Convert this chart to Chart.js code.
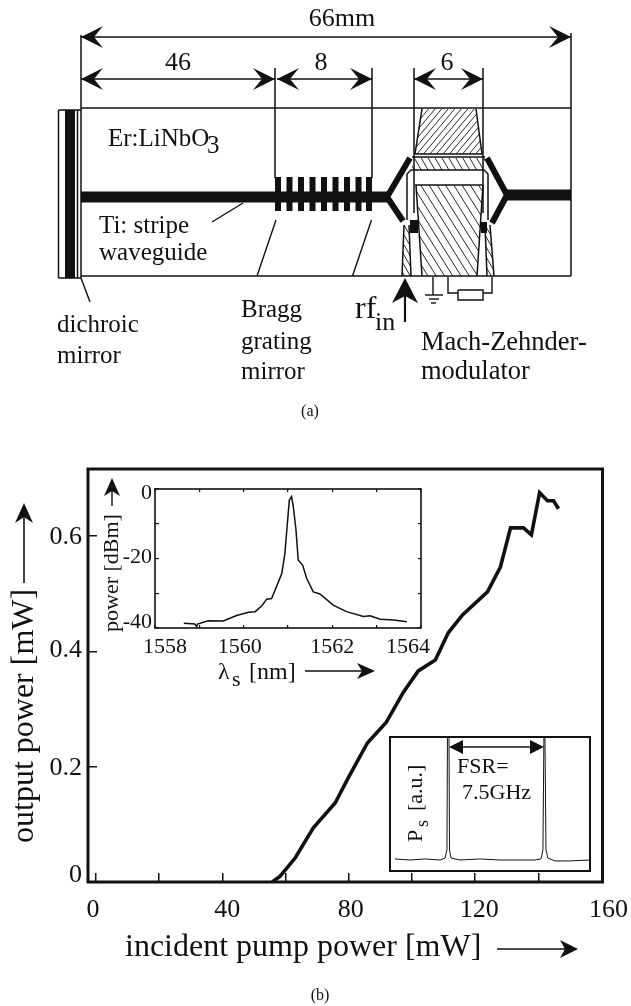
<!DOCTYPE html>
<html>
<head>
<meta charset="utf-8">
<title>Er:LiNbO3 laser</title>
<script src="https://cdn.jsdelivr.net/npm/chart.js@4"></script>
<style>
    html, body { margin: 0; padding: 0; background: #fff; }
    #page { position: relative; width: 631px; height: 1006px; overflow: hidden; }
    canvas { position: absolute; left: 0; top: 0; }
</style>
</head>
<body>
<div id="page">
    <canvas id="sketch" width="631" height="1006"></canvas>
    <canvas id="main" width="631" height="1006"></canvas>
    <canvas id="spectrum" width="631" height="1006"></canvas>
    <canvas id="comb" width="631" height="1006"></canvas>
</div>
<script>
// main curve (b)
const pumpPower = [55.8, 58.3, 63.1, 68.8, 75.7, 79.8, 85.9, 91.9, 97.3, 102.0, 107.4, 111.5, 116.0, 123.9, 128.0, 131.2, 135.3, 137.8, 140.4, 142.9, 144.8, 146.4];
const outputPower = [0, 0.010, 0.042, 0.094, 0.137, 0.180, 0.241, 0.277, 0.329, 0.366, 0.385, 0.432, 0.463, 0.503, 0.546, 0.614, 0.614, 0.602, 0.675, 0.661, 0.661, 0.647];
const pumpTicks = [0, 20, 40, 60, 80, 100, 120, 140, 160];
const pumpLabelTicks = [0, 40, 80, 120, 160];
const pumpLabels = ['0', '40', '80', '120', '160'];
const powerTicks = [0, 0.2, 0.4, 0.6];
const powerLabels = ['0', '0.2', '0.4', '0.6'];

// inset: optical spectrum
const wavelength = [1558.65, 1558.90, 1558.94, 1558.96, 1559.20, 1559.54, 1559.84, 1560.11, 1560.26, 1560.41, 1560.52, 1560.63, 1560.74, 1560.86, 1560.93, 1560.98, 1561.03, 1561.08, 1561.12, 1561.18, 1561.23, 1561.33, 1561.42, 1561.57, 1561.72, 1562.02, 1562.32, 1562.70, 1562.85, 1563.08, 1563.38, 1563.68];
const spectrumDbm = [-38.6, -38.85, -39.6, -38.85, -37.9, -38.0, -36.4, -35.5, -35.3, -33.6, -31.7, -31.5, -28.1, -24.3, -18.5, -10.8, -3.2, -2.2, -5.1, -11.8, -20.4, -21.9, -25.7, -29.6, -30.2, -33.4, -35.3, -36.7, -36.5, -37.5, -37.7, -38.2];
const wavelengthTicks = [1558, 1559, 1560, 1561, 1562, 1563, 1564];
const wavelengthLabels = ['1558', '1560', '1562', '1564'];
const wavelengthLabelTicks = [1558, 1560, 1562, 1564];
const dbmTicks = [0, -10, -20, -30, -40];
const dbmLabels = ['0', '-20', '-40'];
const dbmLabelTicks = [0, -20, -40];

// inset: free spectral range
const combGhz = [0.39, 1.56, 2.73, 3.91, 4.30, 4.45, 4.49, 4.61, 4.65, 4.77, 5.47, 7.03, 8.59, 10.16, 11.33, 11.80, 11.95, 12.03, 12.11, 12.19, 12.34, 12.89, 14.06, 15.63];
const combLevel = [0.090, 0.082, 0.090, 0.082, 0.097, 0.157, 1.0, 1.0, 0.157, 0.097, 0.082, 0.090, 0.082, 0.082, 0.082, 0.090, 0.157, 1.0, 1.0, 0.157, 0.097, 0.075, 0.075, 0.082];

// schematic (a), outlines in sketch units
const chipLines = [
    [[58.5, 110], [81, 110]], [[81, 108], [571, 108]],
    [[58.5, 278], [81, 278]], [[81, 276], [571, 276]],
    [[58.5, 110], [58.5, 278]], [[81, 35], [81, 278]], [[571, 33], [571, 276]],
    [[77.5, 110], [77.5, 278]]
];
const dimensionLines = [
    [[81, 37], [571, 37]], [[81, 79], [275, 79]], [[277, 79], [372, 79]], [[414, 79], [483, 79]],
    [[275, 68], [275, 178]], [[372, 68], [372, 178]], [[414, 68], [414, 213]], [[483, 68], [483, 213]]
];
const leaderLines = [
    [[212, 222], [243, 203]], [[276, 220], [257, 276]], [[371.5, 220], [352.5, 276]], [[81, 278], [90, 302]],
    [[433, 277], [433, 295]], [[425, 295], [443, 295]], [[429, 299], [439, 299]], [[431, 303], [436, 303]],
    [[448, 277], [448, 293], [458, 293]], [[483, 293], [492, 293], [492, 277]],
    [[458, 290], [483, 290], [483, 300], [458, 300], [458, 290]]
];
const electrodeLines = [
    [[422, 109], [415, 154], [482, 154], [476, 109]],
    [[407, 220], [407, 174], [411, 170], [484, 170], [488, 174], [488, 220]],
    [[412, 157], [485, 157]], [[415, 185], [483, 185]],
    [[416, 185], [422, 276]], [[483, 185], [477, 276]],
    [[404, 225], [402, 276]], [[409, 225], [411, 276]], [[485, 225], [487, 276]], [[490, 225], [494, 276]]
];
const waveguideLines = [
    [[81, 197], [387, 197]], [[507, 195], [571, 195]]
];
const branchLines = [
    [[387, 197], [410, 158]], [[387, 197], [403, 221]],
    [[507, 195], [487, 158]], [[507, 195], [492, 223]]
];
const gratingTeeth = [278, 289.5, 301, 312.5, 324, 335.5, 347, 358.5, 369];
const hatchAreas = [
    {pts: [[422, 109], [476, 109], [482, 154], [415, 154]], angle: -50, gap: 5},
    {pts: [[412, 158], [485, 158], [485, 170], [412, 170]], angle: 60, gap: 6},
    {pts: [[416, 185], [483, 185], [477, 276], [422, 276]], angle: 58, gap: 7},
    {pts: [[404, 225], [409, 225], [411, 276], [402, 276]], angle: 60, gap: 5},
    {pts: [[485, 225], [490, 225], [494, 276], [487, 276]], angle: 60, gap: 5}
];
const darkBlocks = [
    [[65, 110], [75, 110], [75, 278], [65, 278]],
    [[410, 220], [418, 220], [418, 233], [410, 233]],
    [[481, 222], [487, 222], [487, 233], [481, 233]]
];

const SERIF = '"Liberation Serif", "Times New Roman", serif';
const INK = '#111';

function text(ctx, str, x, y, size, rot, align) {
    ctx.save();
    ctx.translate(x, y);
    if (rot) ctx.rotate(rot);
    ctx.font = size + 'px ' + SERIF;
    ctx.fillStyle = INK;
    ctx.textAlign = align || 'left';
    ctx.textBaseline = 'middle';
    ctx.fillText(str, 0, 0);
    ctx.restore();
}

function arrowHead(ctx, tipX, tipY, dx, dy, len, half, notch) {
    const px = -dy, py = dx;
    ctx.beginPath();
    ctx.moveTo(tipX, tipY);
    ctx.lineTo(tipX - dx * len + px * half, tipY - dy * len + py * half);
    ctx.lineTo(tipX - dx * notch, tipY - dy * notch);
    ctx.lineTo(tipX - dx * len - px * half, tipY - dy * len - py * half);
    ctx.closePath();
    ctx.fillStyle = INK;
    ctx.fill();
}

function thinLine(ctx, x1, y1, x2, y2, w) {
    ctx.beginPath();
    ctx.moveTo(x1, y1);
    ctx.lineTo(x2, y2);
    ctx.lineWidth = w;
    ctx.strokeStyle = INK;
    ctx.stroke();
}

const framePlugin = {
    id: 'frame',
    afterDraw(chart, args, opts) {
        if (!opts.width) return;
        const a = chart.chartArea, ctx = chart.ctx;
        ctx.save();
        ctx.strokeStyle = INK;
        ctx.lineWidth = opts.width;
        ctx.strokeRect(a.left, a.top, a.right - a.left, a.bottom - a.top);
        ctx.restore();
    }
};

// tick labels that sit a little off their ticks, as in the printed figure
const offsetLabelPlugin = {
    id: 'offsetLabels',
    afterDraw(chart, args, opts) {
        (opts.sets || []).forEach(function(set) {
            const scale = chart.scales[set.scale];
            set.values.forEach(function(v, i) {
                const p = scale.getPixelForValue(v);
                if (set.scale.startsWith('x')) {
                    text(chart.ctx, set.labels[i], p + set.shift[i], set.at, set.size, 0, 'center');
                } else {
                    text(chart.ctx, set.labels[i], set.at, p + set.shift[i], set.size, 0, 'right');
                }
            });
        });
    }
};

const sketchPlugin = {
    id: 'sketchMarks',
    beforeDatasetsDraw(chart) {
        if (chart.canvas.id !== 'sketch') return;
        const ctx = chart.ctx, sx = chart.scales.x, sy = chart.scales.y;
        const px = p => [sx.getPixelForValue(p[0]), sy.getPixelForValue(p[1])];
        function trace(pts) {
            ctx.beginPath();
            pts.map(px).forEach((p, i) => i ? ctx.lineTo(p[0], p[1]) : ctx.moveTo(p[0], p[1]));
            ctx.closePath();
        }
        ctx.save();
        ctx.fillStyle = INK;
        darkBlocks.forEach(b => { trace(b); ctx.fill(); });
        hatchAreas.forEach(function(h) {
            ctx.save();
            trace(h.pts);
            ctx.clip();
            const t = h.angle * Math.PI / 180, c = Math.cos(t), s = Math.sin(t);
            const m = px(h.pts[0]);
            ctx.strokeStyle = INK;
            ctx.lineWidth = 0.9;
            for (let d = -200; d <= 200; d += h.gap) {
                ctx.beginPath();
                ctx.moveTo(m[0] - s * d - c * 200, m[1] + c * d - s * 200);
                ctx.lineTo(m[0] - s * d + c * 200, m[1] + c * d + s * 200);
                ctx.stroke();
            }
            ctx.restore();
        });
        gratingTeeth.forEach(function(x) {
            const a = px([x - 3, 177]), b = px([x + 3, 211]);
            ctx.fillRect(a[0], a[1], b[0] - a[0], b[1] - a[1]);
        });
        ctx.restore();
    },
    afterDraw(chart) {
        if (chart.canvas.id !== 'sketch') return;
        const ctx = chart.ctx;
        [[81, 571, 37], [81, 275, 79], [277, 372, 79], [414, 483, 79]].forEach(function(d) {
            arrowHead(ctx, d[0], d[2], -1, 0, 22, 11, 13);
            arrowHead(ctx, d[1], d[2], 1, 0, 22, 11, 13);
        });
        arrowHead(ctx, 405, 278, 0, -1, 25, 13, 18);
        thinLine(ctx, 405, 290, 405, 322, 2.2);

        text(ctx, '66mm', 342, 19, 26, 0, 'center');
        text(ctx, '46', 178, 63, 26, 0, 'center');
        text(ctx, '8', 321, 63, 26, 0, 'center');
        text(ctx, '6', 447, 63, 26, 0, 'center');
        text(ctx, 'Er:LiNbO', 108, 139, 25);
        text(ctx, '3', 207, 146, 25);
        text(ctx, 'Ti: stripe', 99, 226, 25);
        text(ctx, 'waveguide', 99, 253, 25);
        text(ctx, 'dichroic', 57, 325, 25);
        text(ctx, 'mirror', 57, 356, 25);
        text(ctx, 'Bragg', 241, 310, 25);
        text(ctx, 'grating', 241, 342, 25);
        text(ctx, 'mirror', 241, 372, 25);
        text(ctx, 'rf', 355, 310, 32);
        text(ctx, 'in', 375, 323, 26);
        text(ctx, 'Mach-Zehnder-', 421, 343, 26.5);
        text(ctx, 'modulator', 421, 372, 26.5);
        text(ctx, '(a)', 310, 412, 16, 0, 'center');

        thinLine(ctx, 24, 515, 24, 583, 1.6);
        arrowHead(ctx, 24, 503, 0, -1, 20, 9, 14);
        text(ctx, 'output power [mW]', 25, 843, 32, -Math.PI / 2);
        text(ctx, 'incident pump power [mW]', 125, 948, 32);
        thinLine(ctx, 497, 949, 568, 949, 1.6);
        arrowHead(ctx, 578, 949, 1, 0, 18, 9, 13);
        text(ctx, '(b)', 320, 996, 16, 0, 'center');

        thinLine(ctx, 112, 488, 112, 506, 1.4);
        arrowHead(ctx, 112, 478, 0, -1, 18, 8, 13);
        text(ctx, 'power [dBm]', 112, 632, 22, -Math.PI / 2);
        text(ctx, '\u03bb', 218, 673, 24);
        text(ctx, 's', 232, 680, 22);
        text(ctx, '[nm]', 249, 673, 24);
        thinLine(ctx, 305, 671, 365, 671, 1.4);
        arrowHead(ctx, 375, 671, 1, 0, 18, 8, 13);

        text(ctx, 'FSR=', 457, 767, 22);
        text(ctx, '7.5GHz', 462, 793, 22);
        text(ctx, 'P', 416, 842, 22, -Math.PI / 2);
        text(ctx, 's', 423, 827, 18, -Math.PI / 2);
        text(ctx, '[a.u.]', 416, 811, 22, -Math.PI / 2);
        thinLine(ctx, 455, 747, 538, 747, 1.4);
        arrowHead(ctx, 449, 747, -1, 0, 14, 7, 14);
        arrowHead(ctx, 544, 747, 1, 0, 14, 7, 14);
    }
};

Chart.register(framePlugin, offsetLabelPlugin, sketchPlugin);
Chart.defaults.animation = false;
Chart.defaults.responsive = false;
Chart.defaults.plugins.legend.display = false;
Chart.defaults.plugins.tooltip.enabled = false;
Chart.defaults.font.family = SERIF;
Chart.defaults.color = INK;

function toXY(xs, ys) {
    return xs.map((x, i) => ({x: x, y: ys[i]}));
}

function insetAxis(pos, min, max, tickValues, tickLen, lineWidth) {
    return {
        type: 'linear',
        position: pos,
        min: min,
        max: max,
        afterBuildTicks: s => { s.ticks = tickValues.map(v => ({value: v})); },
        afterFit: s => { if (s.isHorizontal()) s.height = 0; else s.width = 0; },
        border: {display: false},
        grid: {drawOnChartArea: false, drawTicks: true, tickLength: tickLen, lineWidth: lineWidth, color: INK},
        ticks: {display: false}
    };
}

function plotArea(left, top, right, bottom) {
    return {autoPadding: false, padding: {left: left, top: top, right: 631 - right, bottom: 1006 - bottom}};
}

// the sketch chart: unit scales over the whole page, no visible axes
const sketchStrokes = [];
function addStrokes(list, width) {
    list.forEach(function(pts) {
        sketchStrokes.push({
            data: pts.map(p => ({x: p[0], y: p[1]})),
            showLine: true, pointRadius: 0, borderColor: INK, borderWidth: width, tension: 0, fill: false
        });
    });
}
addStrokes(chipLines, 1.5);
addStrokes(dimensionLines, 1.5);
addStrokes(leaderLines, 1.4);
addStrokes(electrodeLines, 1.5);
addStrokes(waveguideLines, 11);
addStrokes(branchLines, 6);

new Chart(document.getElementById('sketch'), {
    type: 'scatter',
    data: {datasets: sketchStrokes},
    options: {
        layout: {padding: 0, autoPadding: false},
        scales: {
            x: {type: 'linear', display: false, min: 0, max: 631},
            y: {type: 'linear', display: false, min: 0, max: 1006, reverse: true}
        }
    }
});

new Chart(document.getElementById('main'), {
    type: 'scatter',
    data: {datasets: [{
        label: 'output power',
        data: toXY(pumpPower, outputPower),
        showLine: true, pointRadius: 0, borderColor: INK, borderWidth: 3.6, tension: 0
    }]},
    options: {
        layout: plotArea(88, 469, 602.5, 882),
        scales: {
            x: insetAxis('bottom', -2.5, 160.3, pumpTicks, -9, 1.5),
            y: insetAxis('left', 0, 0.716, powerTicks, -9, 1.5)
        },
        plugins: {
            frame: {width: 3},
            offsetLabels: {sets: [
                {scale: 'x', values: pumpLabelTicks, labels: pumpLabels, shift: [-3, 5, 2, 4, 7], at: 910, size: 26},
                {scale: 'y', values: powerTicks, labels: powerLabels, shift: [-7, 2, -1, 1], at: 82, size: 26}
            ]}
        }
    }
});

new Chart(document.getElementById('spectrum'), {
    type: 'scatter',
    data: {datasets: [{
        label: 'spectrum',
        data: toXY(wavelength, spectrumDbm),
        showLine: true, pointRadius: 0, borderColor: INK, borderWidth: 1.5, tension: 0
    }]},
    options: {
        layout: plotArea(155, 489, 421, 628),
        scales: {
            x: insetAxis('bottom', 1558, 1564, wavelengthTicks, -3, 1.2),
            x2: insetAxis('top', 1558, 1564, wavelengthTicks, -3, 1.2),
            y: insetAxis('left', -40, 0, dbmTicks, -4, 1.2),
            y2: insetAxis('right', -40, 0, dbmTicks, -3, 1.2)
        },
        plugins: {
            frame: {width: 1.6},
            offsetLabels: {sets: [
                {scale: 'x', values: wavelengthLabelTicks, labels: wavelengthLabels, shift: [10, -4, 0, -13], at: 647, size: 22},
                {scale: 'y', values: dbmLabelTicks, labels: dbmLabels, shift: [4, -1, -6], at: 152, size: 22}
            ]}
        }
    }
});

new Chart(document.getElementById('comb'), {
    type: 'scatter',
    data: {datasets: [{
        label: 'comb',
        data: toXY(combGhz, combLevel),
        showLine: true, pointRadius: 0, borderColor: INK, borderWidth: 1, tension: 0
    }]},
    options: {
        layout: plotArea(390, 737, 590, 871),
        scales: {
            x: {type: 'linear', display: false, min: 0, max: 15.63},
            y: {type: 'linear', display: false, min: 0, max: 1}
        },
        plugins: {frame: {width: 2}}
    }
});
</script>
</body>
</html>
